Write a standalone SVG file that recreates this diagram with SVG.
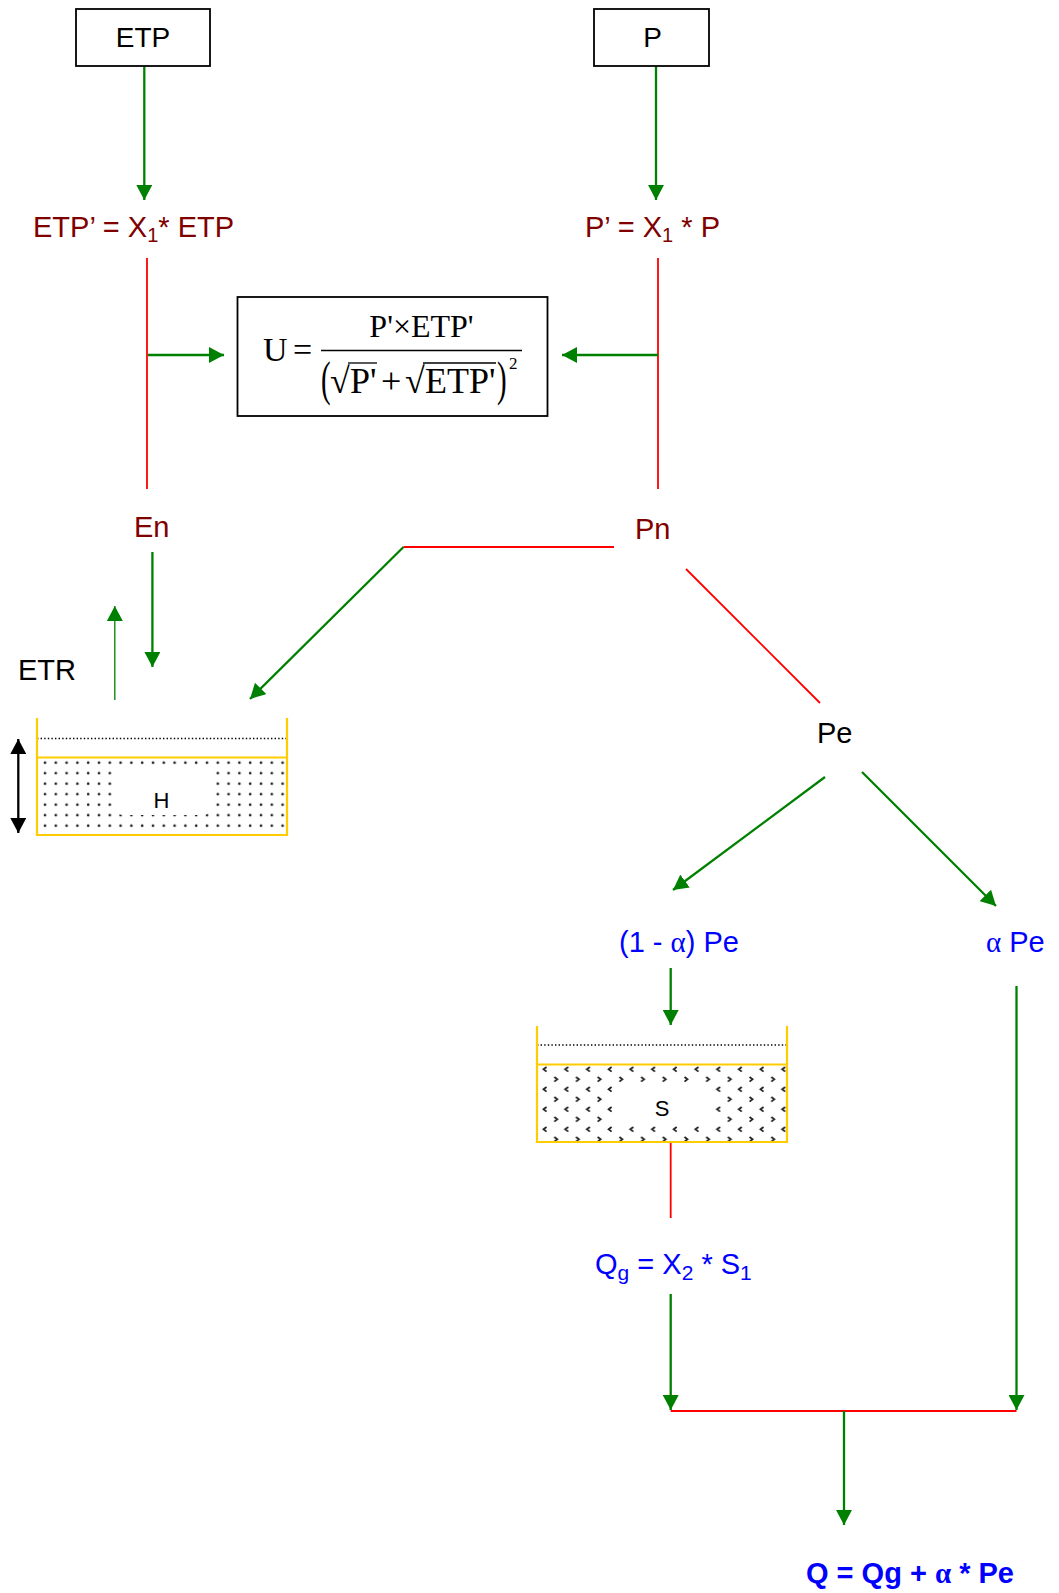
<svg xmlns="http://www.w3.org/2000/svg" width="1059" height="1593" viewBox="0 0 1059 1593">
<style>
  .lbl { font-family: "Liberation Sans", Arial, sans-serif; }
  .box { fill: #ffffff; stroke: #000000; stroke-width: 1.8; }
  .dred { fill: #800000; }
  .blue { fill: #0000ff; }
  .blk { fill: #000000; }
  .g { stroke: #008000; stroke-width: 2.3; fill: none; marker-end: url(#ag); }
  .r { stroke: #ff0000; stroke-width: 1.8; fill: none; }
  .wall { stroke: #ffcc00; stroke-width: 2.2; fill: none; }
  .dot { stroke: #000000; stroke-width: 1.4; stroke-dasharray: 1.4 2.2; }
  .math { font-family: "Liberation Serif", "Times New Roman", serif; fill: #000000; }
  .alpha { font-family: "Liberation Serif", "DejaVu Serif", serif; }
</style>
<defs>
  <marker id="ag" markerUnits="userSpaceOnUse" markerWidth="16" markerHeight="16" refX="15" refY="8" orient="auto">
    <path d="M0,0 L15,8 L0,16 z" fill="#008000"/>
  </marker>
  <marker id="ab" markerUnits="userSpaceOnUse" markerWidth="16" markerHeight="16" refX="15" refY="8" orient="auto-start-reverse">
    <path d="M0,0 L15,8 L0,16 z" fill="#000000"/>
  </marker>
  <pattern id="dots" patternUnits="userSpaceOnUse" x="37" y="758" width="10.8" height="10.5">
    <circle cx="8" cy="4.7" r="1.35" fill="#222222"/>
  </pattern>
  <pattern id="chev" patternUnits="userSpaceOnUse" x="537" y="1065" width="21.7" height="20">
    <polyline points="9.5,2 6.5,4.3 9.5,6.6" fill="none" stroke="#222222" stroke-width="1.8"/>
    <polyline points="17.3,12 20.3,14.3 17.3,16.6" fill="none" stroke="#222222" stroke-width="1.8"/>
  </pattern>
</defs>
<rect width="1059" height="1593" fill="#ffffff"/>

<g id="connectors">
  <line class="g" x1="144.3" y1="66" x2="144.3" y2="200"/>
  <line class="g" x1="656" y1="66" x2="656" y2="200"/>
  <line class="r" x1="147" y1="258" x2="147" y2="489"/>
  <line class="r" x1="658" y1="258" x2="658" y2="489"/>
  <line class="g" x1="148" y1="355" x2="224" y2="355"/>
  <line class="g" x1="658" y1="355" x2="562" y2="355"/>
  <line class="g" x1="152.4" y1="552" x2="152.4" y2="667"/>
  <line x1="114.8" y1="700" x2="114.8" y2="606" stroke="#008000" stroke-width="1.3" marker-end="url(#ag)"/>
  <line class="r" x1="403.5" y1="547" x2="614" y2="547"/>
  <line class="g" x1="403.5" y1="547" x2="250" y2="699"/>
  <line class="r" x1="686" y1="569" x2="820" y2="703"/>
  <line class="g" x1="825" y1="777" x2="673" y2="890"/>
  <line class="g" x1="862" y1="772" x2="996" y2="906"/>
  <line class="g" x1="670.7" y1="968" x2="670.7" y2="1025"/>
  <line class="g" x1="1016.5" y1="986" x2="1016.5" y2="1410"/>
  <line class="r" x1="670.7" y1="1142" x2="670.7" y2="1218"/>
  <line class="g" x1="670.7" y1="1294" x2="670.7" y2="1410"/>
  <line class="r" x1="670.7" y1="1411" x2="1016.5" y2="1411"/>
  <line class="g" x1="844" y1="1411" x2="844" y2="1525"/>
  <line x1="18.3" y1="739" x2="18.3" y2="833" stroke="#000000" stroke-width="2.3" marker-start="url(#ab)" marker-end="url(#ab)"/>
</g>

<g id="node-ETP">
  <rect class="box" x="76" y="9" width="134" height="57"/>
  <text class="lbl blk" x="143" y="47" text-anchor="middle" font-size="28">ETP</text>
</g>
<g id="node-P">
  <rect class="box" x="594" y="9" width="115" height="57"/>
  <text class="lbl blk" x="652.5" y="47" text-anchor="middle" font-size="28">P</text>
</g>
<g id="node-ETPprime">
  <text class="lbl dred" x="33" y="237" font-size="29">ETP’ = X<tspan font-size="20" dy="5">1</tspan><tspan dy="-5">* ETP</tspan></text>
</g>
<g id="node-Pprime">
  <text class="lbl dred" x="585" y="237" font-size="29">P’ = X<tspan font-size="20" dy="5">1</tspan><tspan dy="-5"> * P</tspan></text>
</g>
<g id="node-U">
  <rect class="box" x="237.5" y="297" width="310" height="119" stroke-width="2"/>
  <text class="math" x="263" y="361" font-size="34">U</text>
  <text class="math" x="293" y="361" font-size="34">=</text>
  <line x1="321" y1="350.5" x2="522" y2="350.5" stroke="#000000" stroke-width="1.3"/>
  <text class="math" x="421.5" y="337" text-anchor="middle" font-size="32">P'×ETP'</text>
  <text class="math" transform="translate(321,395) scale(0.8,1.37)" font-size="36">(</text>
  <text class="math" x="330" y="393" font-size="36">√</text>
  <line x1="348" y1="363" x2="377" y2="363" stroke="#000000" stroke-width="1.3"/>
  <text class="math" x="350" y="393" font-size="36">P'</text>
  <text class="math" x="381" y="393" font-size="36">+</text>
  <text class="math" x="405" y="393" font-size="36">√</text>
  <line x1="423" y1="363" x2="496" y2="363" stroke="#000000" stroke-width="1.3"/>
  <text class="math" x="425" y="393" font-size="36">ETP'</text>
  <text class="math" transform="translate(497,395) scale(0.8,1.37)" font-size="36">)</text>
  <text class="math" x="509" y="369" font-size="17">2</text>
</g>
<g id="node-En">
  <text class="lbl dred" x="134" y="537" font-size="29">En</text>
</g>
<g id="node-Pn">
  <text class="lbl dred" x="635" y="539" font-size="29">Pn</text>
</g>
<g id="node-ETR">
  <text class="lbl blk" x="18" y="680" font-size="29">ETR</text>
</g>
<g id="node-H">
  <rect x="37" y="757.5" width="250" height="77.5" fill="url(#dots)"/>
  <rect x="112" y="767" width="102" height="48" rx="12" fill="#ffffff"/>
  <line class="dot" x1="37" y1="738.5" x2="287" y2="738.5"/>
  <line class="wall" x1="37" y1="757.5" x2="287" y2="757.5"/>
  <polyline class="wall" points="37,718 37,835 287,835 287,718"/>
  <text class="lbl blk" x="161.5" y="808" text-anchor="middle" font-size="22">H</text>
</g>
<g id="node-Pe">
  <text class="lbl blk" x="817" y="743" font-size="29">Pe</text>
</g>
<g id="node-1-alpha-Pe">
  <text class="lbl blue" x="619" y="952" font-size="29">(1 - <tspan class="alpha">α</tspan>) Pe</text>
</g>
<g id="node-alpha-Pe">
  <text class="lbl blue" x="986" y="952" font-size="29"><tspan class="alpha">α</tspan> Pe</text>
</g>
<g id="node-S">
  <rect x="537" y="1064.5" width="250" height="77.5" fill="url(#chev)"/>
  <rect x="612" y="1084" width="102" height="40" rx="10" fill="#ffffff"/>
  <line class="dot" x1="537" y1="1045" x2="787" y2="1045"/>
  <line class="wall" x1="537" y1="1064.5" x2="787" y2="1064.5"/>
  <polyline class="wall" points="537,1026 537,1142 787,1142 787,1026"/>
  <text class="lbl blk" x="662" y="1116" text-anchor="middle" font-size="22">S</text>
</g>
<g id="node-Qg">
  <text class="lbl blue" x="595" y="1274" font-size="29">Q<tspan font-size="21" dy="6">g</tspan><tspan dy="-6"> = X</tspan><tspan font-size="21" dy="6">2</tspan><tspan dy="-6"> * S</tspan><tspan font-size="21" dy="6">1</tspan></text>
</g>
<g id="node-Q">
  <text class="lbl blue" x="806" y="1583" font-size="29" font-weight="bold">Q = Qg + <tspan class="alpha">α</tspan> * Pe</text>
</g>
</svg>
